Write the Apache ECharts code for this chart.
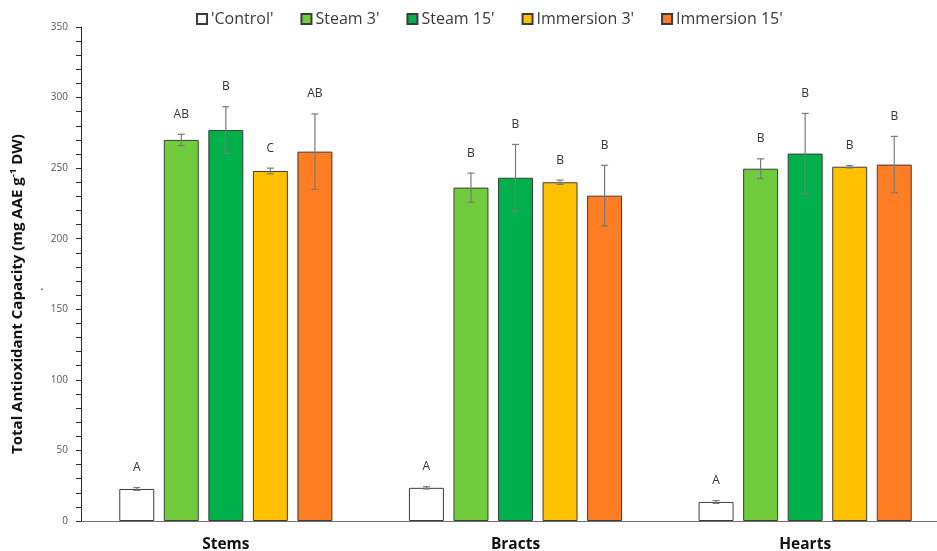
<!DOCTYPE html>
<html>
<head>
<meta charset="utf-8">
<script src="https://cdn.jsdelivr.net/npm/echarts@6/dist/echarts.min.js"></script>
<style>
  html, body { margin: 0; padding: 0; background: #fff; }
  #chart { width: 937px; height: 551px; }
</style>
</head>
<body>
<div id="chart"></div>
<script>
// Tissue categories on the x axis
const categories = ['Stems', 'Bracts', 'Hearts'];

// Treatment names (legend order)
const seriesNames = ["'Control'", "Steam 3'", "Steam 15'", "Immersion 3'", "Immersion 15'"];

// Mean total antioxidant capacity (mg AAE g-1 DW) per treatment
const control     = [22.7, 23.5, 13.5];
const steam3      = [270.0, 236.2, 249.6];
const steam15     = [277.0, 243.2, 260.3];
const immersion3  = [248.0, 240.0, 251.0];
const immersion15 = [261.7, 230.5, 252.5];

// Standard deviations (error bars)
const controlErr     = [1.0, 0.8, 1.0];
const steam3Err      = [4.0, 10.3, 7.0];
const steam15Err     = [16.5, 23.6, 28.5];
const immersion3Err  = [2.0, 1.5, 0.8];
const immersion15Err = [26.7, 21.5, 20.0];

// Significance letters above each bar
const controlLetters     = ['A', 'A', 'A'];
const steam3Letters      = ['AB', 'B', 'B'];
const steam15Letters     = ['B', 'B', 'B'];
const immersion3Letters  = ['C', 'B', 'B'];
const immersion15Letters = ['AB', 'B', 'B'];

// Y axis range and ticks
const yMin = 0, yMax = 350, yStep = 50;

const values  = [control, steam3, steam15, immersion3, immersion15];
const errors  = [controlErr, steam3Err, steam15Err, immersion3Err, immersion15Err];
const letters = [controlLetters, steam3Letters, steam15Letters, immersion3Letters, immersion15Letters];
const colors  = ['#ffffff', '#70cc3c', '#00b04a', '#ffc000', '#ff7d23'];

const FONT = '"Open Sans", "Noto Sans", sans-serif';
const BAR_W = 0.1207;   // bar width as a fraction of the category band
const BAR_GAP = 0.274;  // gap between bars as a fraction of bar width

const chart = echarts.init(document.getElementById('chart'), null, { renderer: 'canvas' });

const barSeries = values.map((vals, k) => ({
  name: seriesNames[k],
  type: 'bar',
  data: vals,
  barWidth: (BAR_W * 100) + '%',
  barGap: (BAR_GAP * 100) + '%',
  itemStyle: { color: colors[k], borderColor: '#3c3c3c', borderWidth: 1 },
  emphasis: { disabled: true },
  z: 2
}));

// Error bars and letter labels, drawn on top of each bar
const errSeries = values.map((vals, k) => ({
  type: 'custom',
  data: vals.map((v, i) => [i, v, errors[k][i], i]),
  encode: { x: 0, y: 1 },
  z: 5,
  silent: true,
  renderItem: function (params, api) {
    const i = api.value(0), v = api.value(1), e = api.value(2);
    const band = api.size([1, 0])[0];
    const dx = (k - 2) * band * BAR_W * (1 + BAR_GAP);
    const top = api.coord([i, v + e]);
    const bot = api.coord([i, v - e]);
    const x = top[0] + dx;
    const cap = 3.5;
    const st = { stroke: '#7a7a7a', lineWidth: 1.2 };
    return {
      type: 'group',
      children: [
        { type: 'line', shape: { x1: x, y1: top[1], x2: x, y2: bot[1] }, style: st },
        { type: 'line', shape: { x1: x - cap, y1: top[1], x2: x + cap, y2: top[1] }, style: st },
        { type: 'line', shape: { x1: x - cap, y1: bot[1], x2: x + cap, y2: bot[1] }, style: st },
        {
          type: 'text', x: x, y: top[1] - 20,
          style: {
            text: letters[k][i], fill: '#333333',
            font: '12px ' + FONT, align: 'center', verticalAlign: 'middle'
          }
        }
      ]
    };
  }
}));

const option = {
  animation: false,
  backgroundColor: '#ffffff',
  // plot area runs a little past the right edge of the canvas
  grid: { left: 81, right: -13, top: 27, bottom: 30, containLabel: false, outerBoundsMode: 'none' },
  legend: {
    data: seriesNames,
    left: 196,
    top: 11,
    padding: 0,
    itemWidth: 10,
    itemHeight: 10,
    itemGap: 27,
    icon: 'rect',
    selectedMode: false,
    textStyle: { fontFamily: FONT, fontSize: 16, color: '#3a3a3a', padding: [0, 0, 0, -1] }
  },
  xAxis: {
    type: 'category',
    data: categories,
    axisTick: { show: false },
    axisLine: { lineStyle: { color: '#6e6e6e', width: 1.2 } },
    axisLabel: { fontFamily: FONT, fontWeight: 'bold', fontSize: 15.5, color: '#111', margin: 16 }
  },
  yAxis: {
    type: 'value',
    min: yMin, max: yMax, interval: yStep,
    splitLine: { show: false },
    axisLine: { show: true, lineStyle: { color: '#2a2a2a', width: 1 } },
    axisTick: { show: true, inside: false, length: 5, lineStyle: { color: '#2a2a2a' } },
    minorTick: { show: true, splitNumber: 5, length: 5, lineStyle: { color: '#2a2a2a' } },
    axisLabel: { fontFamily: FONT, fontSize: 10, color: '#555555', margin: 13 }
  },
  graphic: [
    {
      type: 'text',
      x: 18, y: 294,
      rotation: Math.PI / 2,
      style: {
        text: '{m|Total Antioxidant Capacity (mg AAE g}{s|-1}{m| DW)}',
        align: 'center', verticalAlign: 'middle',
        rich: {
          m: { fontFamily: FONT, fontWeight: 'bold', fontSize: 15, fill: '#111', lineHeight: 19 },
          s: { fontFamily: FONT, fontWeight: 'bold', fontSize: 9.5, fill: '#111', verticalAlign: 'top', lineHeight: 19, padding: [0, 0, 6, 0] }
        }
      }
    },
    {
      type: 'text', x: 42, y: 293,
      style: { text: '.', font: '12px ' + FONT, fill: '#333', align: 'center', verticalAlign: 'bottom' }
    }
  ],
  series: barSeries.concat(errSeries)
};

chart.setOption(option);
</script>
</body>
</html>
